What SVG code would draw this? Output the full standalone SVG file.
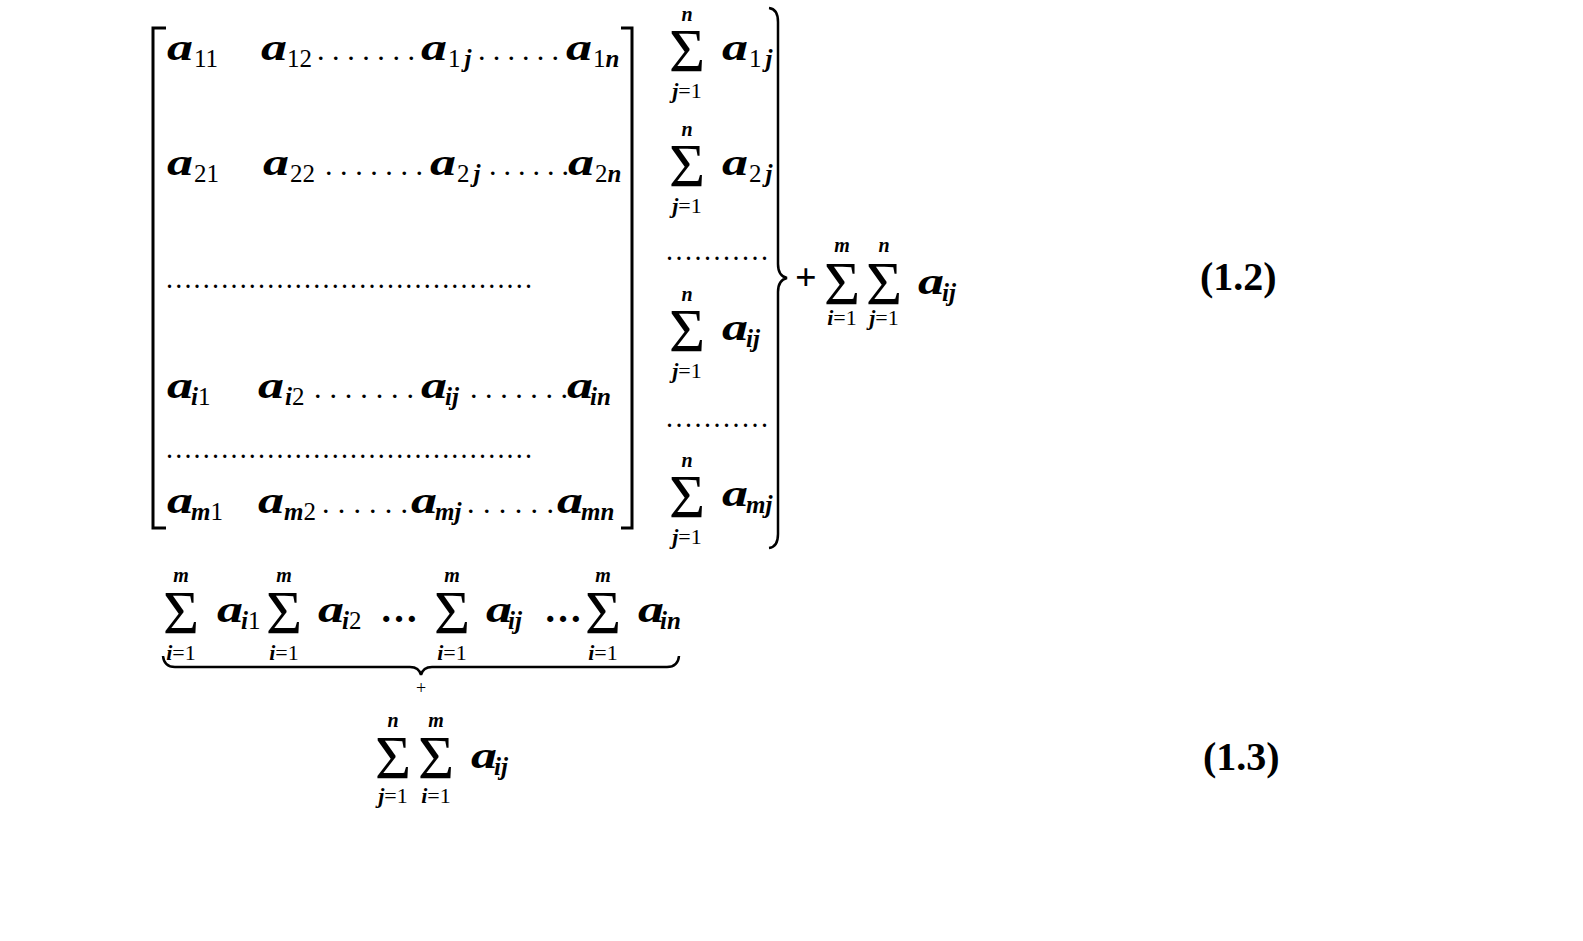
<svg xmlns="http://www.w3.org/2000/svg" width="1583" height="941" viewBox="0 0 1583 941">
<style>
text{fill:#000}
.a{font:italic bold 38px "Liberation Serif",serif}
.s{font:25px "Liberation Serif",serif}
.l{font:22px "Liberation Serif",serif;text-anchor:middle}
.lt{font:italic bold 20px "Liberation Serif",serif;text-anchor:middle}
.g{font:62px "Liberation Serif",serif;text-anchor:middle}
.d{font:bold 22px "Liberation Serif",serif}
.dl{font:bold 20px "Liberation Serif",serif}
.eq{font:bold 40px "Liberation Serif",serif}
.op{font:bold 38px "Liberation Serif",serif}
.br{fill:none;stroke:#000;stroke-width:3}
.bc{fill:none;stroke:#000;stroke-width:2.5}
.si{font-style:italic;font-weight:bold}
</style>
<rect width="1583" height="941" fill="#fff"/>

<g id="matrix">
<path class="br" d="M166,28 H153 V528 H166"/>
<path class="br" d="M621,28 H632 V528 H621"/>
<g id="row1">
<text class="a" x="167" y="60" textLength="26" lengthAdjust="spacingAndGlyphs">a</text><text class="s" x="194" y="67">11</text>
<text class="a" x="261" y="60" textLength="26" lengthAdjust="spacingAndGlyphs">a</text><text class="s" x="287" y="67">12</text>
<text class="d" x="318" y="60" textLength="96" lengthAdjust="spacing">.......</text>
<text class="a" x="421" y="60" textLength="26" lengthAdjust="spacingAndGlyphs">a</text><text class="s" x="448" y="67">1<tspan class="si" dx="4">j</tspan></text>
<text class="d" x="479" y="60" textLength="79" lengthAdjust="spacing">......</text>
<text class="a" x="566" y="60" textLength="26" lengthAdjust="spacingAndGlyphs">a</text><text class="s" x="593" y="67">1<tspan class="si">n</tspan></text>
</g>
<g id="row2">
<text class="a" x="167" y="175" textLength="26" lengthAdjust="spacingAndGlyphs">a</text><text class="s" x="194" y="182">21</text>
<text class="a" x="263" y="175" textLength="26" lengthAdjust="spacingAndGlyphs">a</text><text class="s" x="290" y="182">22</text>
<text class="d" x="326" y="175" textLength="96" lengthAdjust="spacing">.......</text>
<text class="a" x="430" y="175" textLength="26" lengthAdjust="spacingAndGlyphs">a</text><text class="s" x="457" y="182">2<tspan class="si" dx="4">j</tspan></text>
<text class="d" x="490" y="175" textLength="78" lengthAdjust="spacing">......</text>
<text class="a" x="568" y="175" textLength="26" lengthAdjust="spacingAndGlyphs">a</text><text class="s" x="595" y="182">2<tspan class="si">n</tspan></text>
</g>
<text class="dl" x="167" y="288" textLength="364" lengthAdjust="spacing">........................................</text>
<g id="rowi">
<text class="a" x="167" y="398" textLength="26" lengthAdjust="spacingAndGlyphs">a</text><text class="s" x="191" y="405"><tspan class="si">i</tspan>1</text>
<text class="a" x="258" y="398" textLength="26" lengthAdjust="spacingAndGlyphs">a</text><text class="s" x="285" y="405"><tspan class="si">i</tspan>2</text>
<text class="d" x="315" y="398" textLength="98" lengthAdjust="spacing">.......</text>
<text class="a" x="421" y="398" textLength="26" lengthAdjust="spacingAndGlyphs">a</text><text class="s si" x="445" y="405">ij</text>
<text class="d" x="471" y="398" textLength="96" lengthAdjust="spacing">.......</text>
<text class="a" x="567" y="398" textLength="26" lengthAdjust="spacingAndGlyphs">a</text><text class="s si" x="590" y="405">in</text>
</g>
<text class="dl" x="167" y="458" textLength="364" lengthAdjust="spacing">........................................</text>
<g id="rowm">
<text class="a" x="167" y="513" textLength="26" lengthAdjust="spacingAndGlyphs">a</text><text class="s" x="191" y="520"><tspan class="si">m</tspan>1</text>
<text class="a" x="258" y="513" textLength="26" lengthAdjust="spacingAndGlyphs">a</text><text class="s" x="284" y="520"><tspan class="si">m</tspan>2</text>
<text class="d" x="323" y="513" textLength="84" lengthAdjust="spacing">......</text>
<text class="a" x="411" y="513" textLength="26" lengthAdjust="spacingAndGlyphs">a</text><text class="s si" x="435" y="520">mj</text>
<text class="d" x="468" y="513" textLength="85" lengthAdjust="spacing">......</text>
<text class="a" x="557" y="513" textLength="26" lengthAdjust="spacingAndGlyphs">a</text><text class="s si" x="581" y="520">mn</text>
</g>
</g>

<g id="rowsums">
<g id="rs1">
<text class="lt" x="687" y="21">n</text>
<text class="g" x="687" y="71">Σ</text>
<text class="l" x="687" y="98"><tspan class="si">j</tspan>=1</text>
<text class="a" x="722" y="60" textLength="26" lengthAdjust="spacingAndGlyphs">a</text><text class="s" x="749" y="67">1<tspan class="si" dx="4">j</tspan></text>
</g>
<g id="rs2">
<text class="lt" x="687" y="136">n</text>
<text class="g" x="687" y="186">Σ</text>
<text class="l" x="687" y="213"><tspan class="si">j</tspan>=1</text>
<text class="a" x="722" y="175" textLength="26" lengthAdjust="spacingAndGlyphs">a</text><text class="s" x="749" y="182">2<tspan class="si" dx="4">j</tspan></text>
</g>
<text class="dl" x="667" y="260" textLength="100" lengthAdjust="spacing">...........</text>
<g id="rs3">
<text class="lt" x="687" y="301">n</text>
<text class="g" x="687" y="351">Σ</text>
<text class="l" x="687" y="378"><tspan class="si">j</tspan>=1</text>
<text class="a" x="722" y="340" textLength="26" lengthAdjust="spacingAndGlyphs">a</text><text class="s si" x="746" y="347">ij</text>
</g>
<text class="dl" x="667" y="427" textLength="100" lengthAdjust="spacing">...........</text>
<g id="rs4">
<text class="lt" x="687" y="467">n</text>
<text class="g" x="687" y="517">Σ</text>
<text class="l" x="687" y="544"><tspan class="si">j</tspan>=1</text>
<text class="a" x="722" y="506" textLength="26" lengthAdjust="spacingAndGlyphs">a</text><text class="s si" x="746" y="513">mj</text>
</g>
<path class="bc" d="M769,8 Q778,9 778,22 V264 Q778,276 787,278 Q778,280 778,292 V534 Q778,547 769,548"/>
</g>

<g id="total12">
<text class="op" x="795" y="290">+</text>
<text class="lt" x="842" y="252">m</text>
<text class="g" x="842" y="304">Σ</text>
<text class="l" x="842" y="325"><tspan class="si">i</tspan>=1</text>
<text class="lt" x="884" y="252">n</text>
<text class="g" x="884" y="304">Σ</text>
<text class="l" x="884" y="325"><tspan class="si">j</tspan>=1</text>
<text class="a" x="918" y="294" textLength="26" lengthAdjust="spacingAndGlyphs">a</text><text class="s si" x="942" y="301">ij</text>
</g>
<text id="eq12" class="eq" x="1200" y="290">(1.2)</text>

<g id="colsums">
<g id="cs1">
<text class="lt" x="181" y="582">m</text>
<text class="g" x="181" y="633">Σ</text>
<text class="l" x="181" y="660"><tspan class="si">i</tspan>=1</text>
<text class="a" x="217" y="622" textLength="26" lengthAdjust="spacingAndGlyphs">a</text><text class="s" x="241" y="629"><tspan class="si">i</tspan>1</text>
</g>
<g id="cs2">
<text class="lt" x="284" y="582">m</text>
<text class="g" x="284" y="633">Σ</text>
<text class="l" x="284" y="660"><tspan class="si">i</tspan>=1</text>
<text class="a" x="318" y="622" textLength="26" lengthAdjust="spacingAndGlyphs">a</text><text class="s" x="342" y="629"><tspan class="si">i</tspan>2</text>
</g>
<text class="op" x="380" y="622">…</text>
<g id="cs3">
<text class="lt" x="452" y="582">m</text>
<text class="g" x="452" y="633">Σ</text>
<text class="l" x="452" y="660"><tspan class="si">i</tspan>=1</text>
<text class="a" x="486" y="622" textLength="26" lengthAdjust="spacingAndGlyphs">a</text><text class="s si" x="508" y="629">ij</text>
</g>
<text class="op" x="544" y="622">…</text>
<g id="cs4">
<text class="lt" x="603" y="582">m</text>
<text class="g" x="603" y="633">Σ</text>
<text class="l" x="603" y="660"><tspan class="si">i</tspan>=1</text>
<text class="a" x="638" y="622" textLength="26" lengthAdjust="spacingAndGlyphs">a</text><text class="s si" x="660" y="629">in</text>
</g>
<path class="bc" stroke-width="2" d="M163,656 Q164,667 175,667 H410 Q419,667 421,675 Q423,667 432,667 H667 Q678,667 679,656"/>
<text font-family="Liberation Serif" font-size="18" x="421" y="694" text-anchor="middle">+</text>
</g>

<g id="total13">
<text class="lt" x="393" y="727">n</text>
<text class="g" x="393" y="778">Σ</text>
<text class="l" x="393" y="803"><tspan class="si">j</tspan>=1</text>
<text class="lt" x="436" y="727">m</text>
<text class="g" x="436" y="778">Σ</text>
<text class="l" x="436" y="803"><tspan class="si">i</tspan>=1</text>
<text class="a" x="471" y="768" textLength="26" lengthAdjust="spacingAndGlyphs">a</text><text class="s si" x="494" y="775">ij</text>
</g>
<text id="eq13" class="eq" x="1203" y="770">(1.3)</text>
</svg>
